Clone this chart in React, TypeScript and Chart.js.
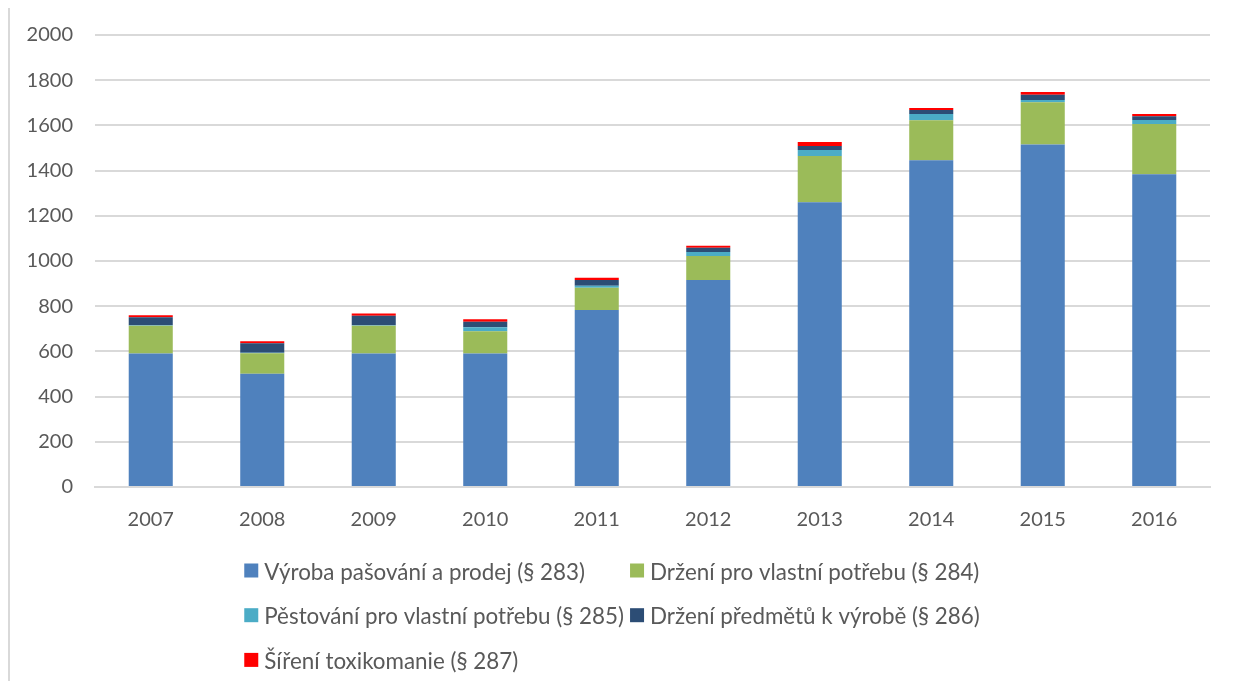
import React, { useEffect, useRef } from "react";
import { Chart, registerables } from "chart.js";

Chart.register(...registerables);

const years = ["2007", "2008", "2009", "2010", "2011", "2012", "2013", "2014", "2015", "2016"];
const vyroba283 = [591, 501, 591, 591, 783, 916, 1260, 1446, 1516, 1384];
const drzeni284 = [123, 91, 123, 98, 99, 106, 205, 177, 186, 222];
const pestovani285 = [2, 2, 2, 18, 9, 18, 26, 27, 10, 18];
const predmety286 = [35, 42, 42, 24, 25, 19, 18, 18, 24, 16];
const sireni287 = [9, 9, 10, 11, 10, 9, 18, 9, 12, 10];

const seriesNames = [
  "Výroba pašování a prodej (§ 283)",
  "Držení pro vlastní potřebu (§ 284)",
  "Pěstování pro vlastní potřebu (§ 285)",
  "Držení předmětů k výrobě (§ 286)",
  "Šíření toxikomanie (§ 287)",
];
const seriesColors = ["#4F81BD", "#9BBB59", "#4BACC6", "#2C4D75", "#FF0000"];

const FONT = "Lato, 'Open Sans', sans-serif";
const TEXT = "#595959";
const GRID = "#D9D9D9";

const frameAndLegend = {
  id: "frameAndLegend",
  beforeDraw(chart: any) {
    const ctx = chart.ctx;
    ctx.save();
    ctx.fillStyle = GRID;
    ctx.fillRect(0, 0, chart.width, 2);
    ctx.fillRect(0, 0, 2, chart.height);
    ctx.restore();
  },
  afterDraw(chart: any) {
    const ctx = chart.ctx;
    const area = chart.chartArea;
    ctx.save();
    ctx.font = `22.4px ${FONT}`;
    ctx.textBaseline = "middle";
    ctx.textAlign = "left";
    const box = 14;
    const gap = 6;
    const items = chart.data.datasets.map((d: any) => ({
      text: d.label,
      color: d.backgroundColor,
      w: ctx.measureText(d.label).width,
    }));
    const col1 = items.filter((_: any, i: number) => i % 2 === 0);
    const col2 = items.filter((_: any, i: number) => i % 2 === 1);
    const w1 = Math.max(...col1.map((it: any) => it.w));
    const w2 = Math.max(...col2.map((it: any) => it.w));
    const colW1 = box + gap + w1 + 6;
    const total = colW1 + box + gap + w2;
    const x0 = chart.width / 2 - total / 2 - 5;
    const rowY0 = area.bottom + 83.5;
    const rowStep = 44.7;
    items.forEach((it: any, i: number) => {
      const row = Math.floor(i / 2);
      const col = i % 2;
      const x = x0 + (col === 1 ? colW1 : 0);
      const y = rowY0 + row * rowStep;
      ctx.fillStyle = it.color;
      ctx.fillRect(x, y - box / 2, box, box);
      ctx.fillStyle = TEXT;
      ctx.fillText(it.text, x + box + gap, y + 2);
    });
    ctx.restore();
  },
};

export default function App() {
  const ref = useRef<HTMLCanvasElement | null>(null);
  useEffect(() => {
    if (!ref.current) return;
    const data = [vyroba283, drzeni284, pestovani285, predmety286, sireni287];
    const chart = new Chart(ref.current, {
      type: "bar",
      data: {
        labels: years,
        datasets: data.map((vals, i) => ({
          label: seriesNames[i],
          data: vals,
          backgroundColor: seriesColors[i],
          borderWidth: 0,
          categoryPercentage: 1,
          barPercentage: 0.395,
        })),
      },
      options: {
        animation: false,
        responsive: true,
        maintainAspectRatio: false,
        layout: { padding: { top: 29, right: 16, left: 0, bottom: 128 } },
        plugins: {
          legend: { display: false },
          tooltip: { enabled: false },
        },
        scales: {
          x: {
            stacked: true,
            grid: { display: false, drawTicks: false },
            border: { display: true, color: GRID, width: 2 },
            ticks: { color: TEXT, font: { family: FONT, size: 20 }, padding: 21 },
          },
          y: {
            stacked: true,
            min: 0,
            max: 2000,
            afterFit(scale: any) {
              scale.width = 87;
              scale.paddingTop = 0;
              scale.paddingBottom = 0;
            },
            grid: { color: GRID, lineWidth: 2, drawTicks: false },
            border: { display: false },
            ticks: {
              stepSize: 200,
              color: TEXT,
              font: { family: FONT, size: 20 },
              padding: 22,
              callback: (v: any) => String(v),
            },
          },
        },
      },
      plugins: [frameAndLegend],
    });
    return () => chart.destroy();
  }, []);
  return (
    <div style={{ position: "relative", width: 1218, height: 675, marginTop: -2 }}>
      <canvas ref={ref} />
    </div>
  );
}
